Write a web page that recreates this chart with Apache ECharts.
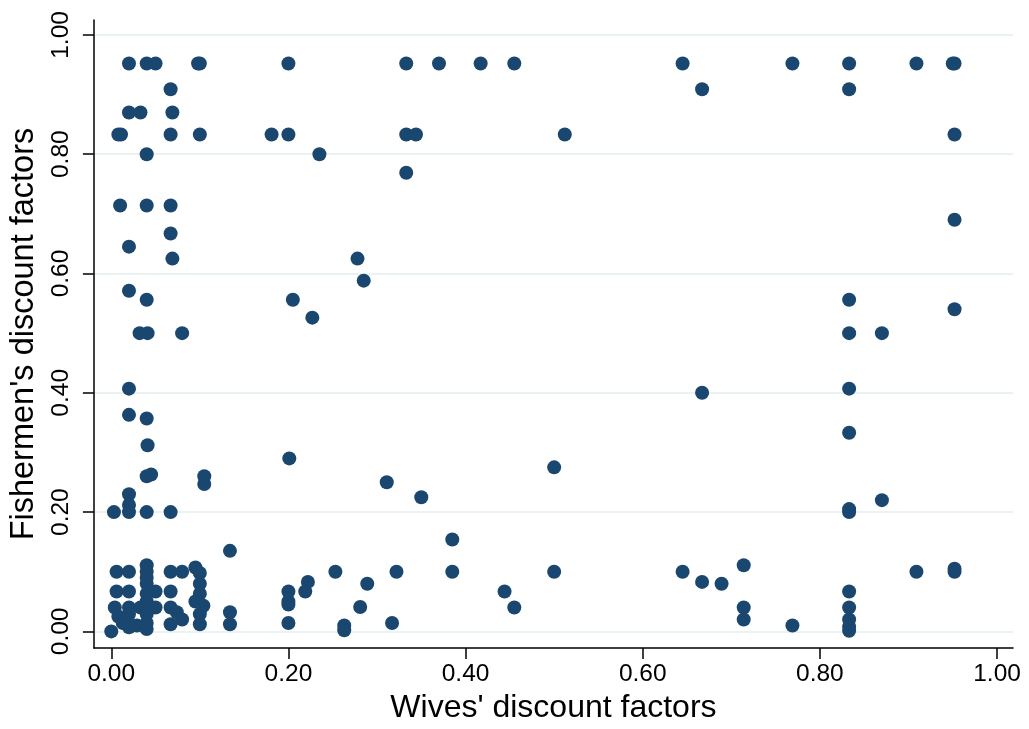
<!DOCTYPE html>
<html>
<head>
<meta charset="utf-8">
<script src="https://cdn.jsdelivr.net/npm/echarts@6/dist/echarts.min.js"></script>
<style>
html,body{margin:0;padding:0;background:#fff;}
#chart{width:1029px;height:729px;}
</style>
</head>
<body>
<div id="chart"></div>
<script>
// Wives' discount factors (x) and Fishermen's discount factors (y)
const wives = [
  0.02,0.04,0.05,0.098,0.1,0.2,0.333,0.37,0.417,0.455,0.645,0.769,0.833,0.909,0.952,0.95,
  0.067,0.667,0.833,
  0.02,0.033,0.069,
  0.008,0.011,0.067,0.1,0.181,0.2,0.333,0.344,0.512,0.952,
  0.04,0.235,
  0.333,
  0.01,0.04,0.067,
  0.952,
  0.067,
  0.02,
  0.069,0.278,
  0.285,
  0.02,
  0.04,0.205,0.833,
  0.952,
  0.227,
  0.032,0.041,0.08,0.833,0.87,
  0.02,0.833,
  0.667,
  0.02,
  0.04,
  0.833,
  0.041,
  0.201,
  0.5,
  0.04,0.045,0.105,
  0.311,0.105,
  0.02,
  0.35,
  0.87,
  0.02,
  0.003,0.02,0.04,0.067,0.833,0.833,
  0.385,
  0.134,
  0.04,0.714,
  0.006,0.02,0.04,0.067,0.08,0.095,0.1,0.253,0.322,0.385,0.5,0.645,0.909,0.952,0.952,
  0.04,
  0.222,0.667,
  0.04,0.1,0.289,0.689,
  0.006,0.02,0.05,0.067,0.2,0.219,0.444,0.833,
  0.04,0.1,
  0.04,0.095,0.2,
  0.2,
  0.004,0.02,0.033,0.04,0.05,0.067,0.104,0.281,0.455,0.714,0.833,
  0.074,0.134,
  0.02,0.04,0.1,
  0.008,
  0.08,0.714,0.833,
  0.02,0.013,0.04,0.2,0.317,
  0.067,0.1,0.134,
  0.029,0.263,0.769,0.833,
  0.02,
  0.0,0.04,0.263,0.833
];
const fishermen = [
  0.952,0.952,0.952,0.952,0.952,0.952,0.952,0.952,0.952,0.952,0.952,0.952,0.952,0.952,0.952,0.952,
  0.909,0.909,0.909,
  0.87,0.87,0.87,
  0.833,0.833,0.833,0.833,0.833,0.833,0.833,0.833,0.833,0.833,
  0.8,0.8,
  0.769,
  0.714,0.714,0.714,
  0.69,
  0.667,
  0.645,
  0.625,0.625,
  0.588,
  0.571,
  0.556,0.556,0.556,
  0.54,
  0.526,
  0.5,0.5,0.5,0.5,0.5,
  0.407,0.407,
  0.4,
  0.363,
  0.357,
  0.333,
  0.312,
  0.29,
  0.275,
  0.26,0.263,0.26,
  0.25,0.247,
  0.23,
  0.225,
  0.22,
  0.212,
  0.2,0.2,0.2,0.2,0.2,0.205,
  0.154,
  0.135,
  0.111,0.111,
  0.1,0.1,0.1,0.1,0.1,0.107,0.098,0.1,0.1,0.1,0.1,0.1,0.1,0.1,0.105,
  0.09,
  0.083,0.083,
  0.08,0.08,0.08,0.08,
  0.067,0.067,0.067,0.067,0.067,0.067,0.067,0.067,
  0.063,0.063,
  0.05,0.05,0.05,
  0.045,
  0.04,0.04,0.04,0.04,0.04,0.04,0.043,0.041,0.04,0.04,0.04,
  0.032,0.032,
  0.029,0.029,0.029,
  0.025,
  0.02,0.02,0.02,
  0.014,0.014,0.014,0.014,0.014,
  0.012,0.012,0.012,
  0.01,0.01,0.01,0.008,
  0.007,
  0.0,0.004,0.002,0.001
];
const tickValues = [0, 0.2, 0.4, 0.6, 0.8, 1.0];
const tickLabels = ['0.00', '0.20', '0.40', '0.60', '0.80', '1.00'];
const xTitle = "Wives' discount factors";
const yTitle = "Fishermen's discount factors";

const points = wives.map((w, i) => [w, fishermen[i]]);
const labelFor = v => tickLabels[tickValues.findIndex(t => Math.abs(t - v) < 1e-9)] ?? v.toFixed(2);
const font = "'Liberation Sans', Arial, sans-serif";

const chart = echarts.init(document.getElementById('chart'), null, {renderer: 'canvas'});
chart.setOption({
  backgroundColor: '#ffffff',
  animation: false,
  grid: {left: 93.3, right: 16, top: 20, bottom: 78.3, containLabel: false},
  xAxis: {
    type: 'value',
    min: -0.0196, max: 1.018,
    name: xTitle, nameLocation: 'middle', nameGap: 39,
    nameTextStyle: {fontFamily: font, fontSize: 32, color: '#000'},
    axisLine: {show: true, onZero: false, lineStyle: {color: '#000', width: 1.5}},
    axisTick: {show: true, length: 11, lineStyle: {color: '#000', width: 1.5}, customValues: tickValues},
    axisLabel: {fontFamily: font, fontSize: 24.5, color: '#000', margin: 14, customValues: tickValues, formatter: labelFor},
    splitLine: {show: false}
  },
  yAxis: {
    type: 'value',
    min: -0.028, max: 1.025,
    name: yTitle, nameLocation: 'middle', nameGap: 52,
    nameTextStyle: {fontFamily: font, fontSize: 32.5, color: '#000'},
    axisLine: {show: true, onZero: false, lineStyle: {color: '#000', width: 1.5}},
    axisTick: {show: true, length: 11, lineStyle: {color: '#000', width: 1.5}, customValues: tickValues},
    axisLabel: {fontFamily: font, fontSize: 24.5, color: '#000', margin: 20, rotate: 90, customValues: tickValues, formatter: labelFor},
    splitLine: {show: true, lineStyle: {color: '#eaf2f3', width: 2}}
  },
  series: [{
    type: 'scatter',
    data: points,
    symbol: 'circle',
    symbolSize: 14,
    clip: false,
    itemStyle: {color: '#1a476f', opacity: 1},
    emphasis: {disabled: true}
  }]
});
</script>
</body>
</html>
